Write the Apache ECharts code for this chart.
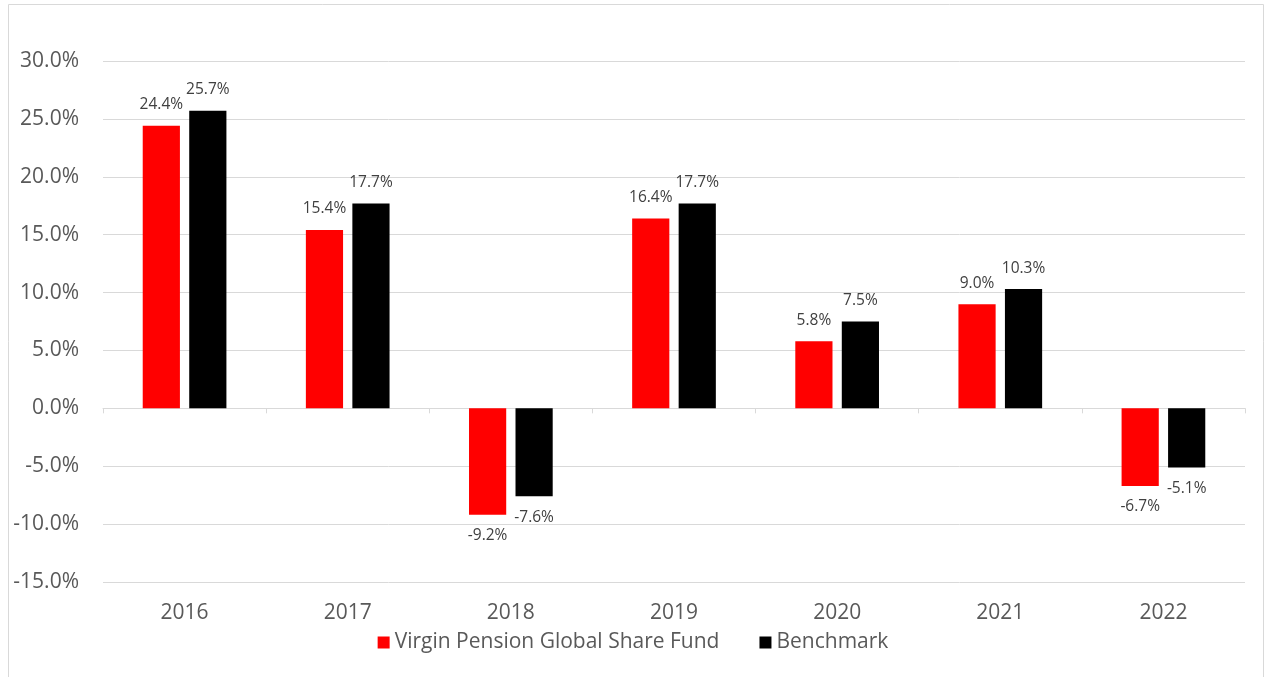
<!DOCTYPE html>
<html>
<head>
<meta charset="utf-8">
<script src="https://cdn.jsdelivr.net/npm/echarts@6/dist/echarts.min.js"></script>
<style>
  html, body { margin: 0; padding: 0; background: #fff; }
  #chart { width: 1266px; height: 677px; }
</style>
</head>
<body>
<div id="chart"></div>
<script>
// years and annual returns (%)
const years = ['2016', '2017', '2018', '2019', '2020', '2021', '2022'];
const fundValues = [24.4, 15.4, -9.2, 16.4, 5.8, 9.0, -6.7];
const benchValues = [25.7, 17.7, -7.6, 17.7, 7.5, 10.3, -5.1];
const seriesNames = ['Virgin Pension Global Share Fund', 'Benchmark'];

const font = '"Open Sans", "Noto Sans", sans-serif';

function barLabel(v) {
    return {
        value: v,
        label: { position: v < 0 ? 'bottom' : 'top' }
    };
}

const chart = echarts.init(document.getElementById('chart'));
chart.setOption({
    animation: false,
    textStyle: { fontFamily: font },
    graphic: [{
        type: 'rect',
        shape: { x: 8.5, y: 4.5, width: 1255, height: 700 },
        style: { fill: 'none', stroke: '#d9d9d9', lineWidth: 1 },
        silent: true
    }],
    grid: { left: 103, right: 21, top: 61, bottom: 95 },
    legend: {
        bottom: 19,
        left: 'center',
        itemWidth: 12,
        itemHeight: 12,
        itemGap: 40,
        icon: 'rect',
        textStyle: { fontSize: 21, color: '#595959', fontFamily: font },
        data: seriesNames
    },
    xAxis: {
        type: 'category',
        data: years,
        axisLine: { lineStyle: { color: '#d9d9d9' } },
        axisTick: { show: true, length: 5, lineStyle: { color: '#d9d9d9' } },
        axisLabel: {
            color: '#595959', fontSize: 21, fontFamily: font,
            margin: 21
        }
    },
    yAxis: {
        type: 'value',
        min: -15,
        max: 30,
        interval: 5,
        axisLine: { show: false },
        axisTick: { show: false },
        splitLine: { lineStyle: { color: '#d9d9d9', width: 1 } },
        axisLabel: {
            color: '#595959', fontSize: 21, fontFamily: font, margin: 24,
            formatter: v => v.toFixed(1) + '%'
        }
    },
    series: [
        {
            name: seriesNames[0],
            type: 'bar',
            data: fundValues.map(barLabel),
            itemStyle: { color: '#ff0000' },
            barWidth: '22.8%',
            barGap: '25%',
            label: {
                show: true, color: '#404040', fontSize: 15.5, fontFamily: font,
                distance: 13,
                formatter: p => p.value.toFixed(1) + '%'
            }
        },
        {
            name: seriesNames[1],
            type: 'bar',
            data: benchValues.map(barLabel),
            itemStyle: { color: '#000000' },
            barWidth: '22.8%',
            barGap: '25%',
            label: {
                show: true, color: '#404040', fontSize: 15.5, fontFamily: font,
                distance: 13,
                formatter: p => p.value.toFixed(1) + '%'
            }
        }
    ]
});
</script>
</body>
</html>
